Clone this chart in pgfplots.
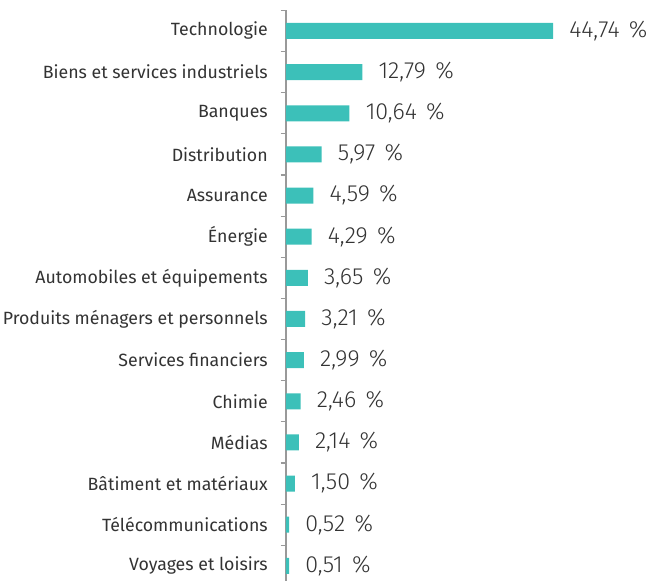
\documentclass[border=0pt]{standalone}
\usepackage{pgfplots}
\pgfplotsset{compat=1.18}
\usepackage{fontspec}
\setmainfont{Fira Sans}
\newfontfamily\valfont{Fira Sans Light}
\definecolor{barc}{HTML}{3CC0B9}
\definecolor{txt}{HTML}{333333}
\definecolor{axc}{HTML}{999999}
\begin{document}
\begin{tikzpicture}
\begin{axis}[
  xbar, bar width=12pt,
  scale only axis, width=200.25pt, height=432pt,
  xmin=0, xmax=44.74,
  ymin=-0.5, ymax=13.5, y dir=reverse,
  axis x line=none,
  axis y line*=left,
  y axis line style={draw=axc, line width=0.9pt},
  ytick={0,...,13},
  yticklabels={Technologie,Biens et services industriels,Banques,Distribution,Assurance,Énergie,Automobiles et équipements,Produits ménagers et personnels,Services financiers,Chimie,Médias,Bâtiment et matériaux,Télécommunications,Voyages et loisirs},
  major tick length=0pt,
  minor ytick={-0.5,0.5,...,13.5},
  minor tick length=4pt,
  tick align=outside,
  minor tick style={draw=axc, line width=0.9pt},
  yticklabel style={font=\fontsize{13.3}{15}\selectfont, text=txt, inner sep=0pt, xshift=-13.5pt},
  clip=false,
  nodes near coords={\pgfmathprintnumber[fixed,fixed zerofill,precision=2,use comma,assume math mode=true]{\pgfplotspointmeta}\hspace{0.4em}\%},
  every node near coord/.append style={font=\valfont\fontsize{17.5}{19}\selectfont, text=txt, anchor=west, inner sep=0pt, xshift=12pt},
]
\addplot[fill=barc, draw=none] coordinates {
(44.74,0) (12.79,1) (10.64,2) (5.97,3) (4.59,4) (4.29,5) (3.65,6) (3.21,7) (2.99,8) (2.46,9) (2.14,10) (1.50,11) (0.52,12) (0.51,13)};
\coordinate (tl) at (axis cs:0,-0.5);
\end{axis}
\pgfresetboundingbox
\useasboundingbox ([xshift=-214.5pt,yshift=7.8pt]tl) rectangle ([xshift=272.25pt,yshift=-427.95pt]tl);
\end{tikzpicture}
\end{document}
